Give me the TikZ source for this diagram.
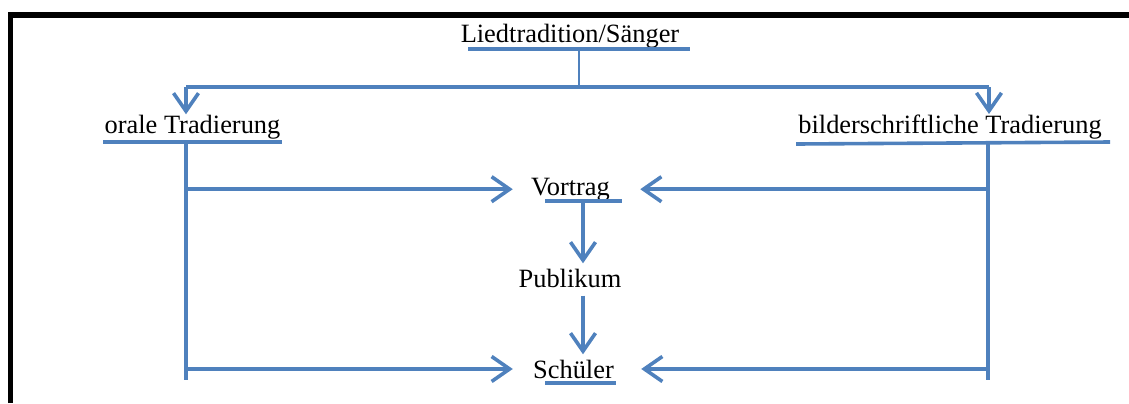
\documentclass[tikz,border=0pt]{standalone}
\usepackage{fontspec}
\setmainfont{Liberation Serif}
\usetikzlibrary{arrows.meta}
\definecolor{lineblue}{RGB}{79,129,189}

\begin{document}
\begin{tikzpicture}[x=0.5pt,y=-0.5pt,
  lbl/.style={inner sep=0pt, anchor=base, font=\fontsize{13.2}{15}\selectfont},
  ln/.style={lineblue, line width=1.8pt},
  arr/.style={ln, -{Straight Barb[length=9pt,width=12.5pt]}}]

\useasboundingbox (0,0) rectangle (1129,403);

% frame
\draw[black, line width=2.9pt] (10.5,403) -- (10.5,15) -- (1129,15);

% texts
\node[lbl] (lied) at (570,42) {Liedtradition/Sänger};
\node[lbl] (oral) at (192.5,133) {orale Tradierung};
\node[lbl] (bild) at (950,133) {bilderschriftliche Tradierung};
\node[lbl] (vortrag) at (570.5,195) {Vortrag};
\node[lbl] (publikum) at (570,287) {Publikum};
\node[lbl] (schueler) at (573.5,378) {Schüler};

% underlines
\draw[ln] (468,49) -- (690,49);
\draw[ln] (103,142) -- (282,142);
\draw[ln] (796,144) -- (1110,142);
\draw[ln] (545,201) -- (622,201);
\draw[ln] (545,383) -- (616,383);

\coordinate (lu) at (579,49);
\coordinate (split) at (579,87);
\coordinate (tl) at (186,87);
\coordinate (tr) at (989,87);
\coordinate (ol) at (186,142);
\coordinate (olb) at (186,380);
\coordinate (bl) at (988,144);
\coordinate (blb) at (988,380);
\coordinate (vu) at (583,201);

% top branch
\draw[lineblue, line width=1pt] (lu) -- (split);
\draw[ln] (tl) -- (tr);
\draw[arr] (tl) -- (oral.north -| tl);
\draw[arr] (tr) -- (bild.north -| tr);

% left and right stems
\draw[ln] (ol) -- (olb);
\draw[ln] (bl) -- (blb);
\draw[arr] (ol |- vortrag.west) -- ([xshift=-9pt]vortrag.west);
\draw[arr] (ol |- schueler.west) -- ([xshift=-10pt]schueler.west);
\draw[arr] (bl |- vortrag.east) -- ([xshift=15pt]vortrag.east);
\draw[arr] (bl |- schueler.east) -- ([xshift=13.5pt]schueler.east);

% middle column
\draw[arr, shorten >=2.5pt] (vu) -- (publikum.north -| vu);
\draw[arr, shorten <=4pt, shorten >=2.5pt] (publikum.south -| vu) -- (schueler.north -| vu);

\end{tikzpicture}
\end{document}
